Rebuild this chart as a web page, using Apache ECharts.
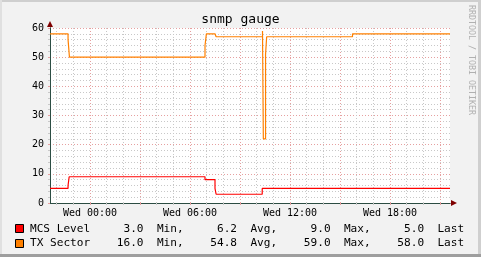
<!DOCTYPE html>
<html><head><meta charset="utf-8">
<script src="https://cdn.jsdelivr.net/npm/echarts@6/dist/echarts.min.js"></script>
<style>html,body{margin:0;padding:0;background:#f2f2f2}#c{width:481px;height:257px}</style>
</head><body><div id="c"></div>
<script>
// ---- data (times are minutes relative to Wed 00:00) ----
const titleText = 'snmp gauge';
const watermark = 'RRDTOOL / TOBI OETIKER';
const seriesNames = ['MCS Level', 'TX Sector'];
const mcsTimes  = [-144, -79, -75, 414, 450, 454, 620, 623, 627, 1296];
const mcsValues = [5, 6, 9, 8, 5, 3, 5, 5.3, 5, 5];
const txTimes   = [-144, -79, -74, 414, 419, 450, 454, 621, 624, 632, 636, 945, 1296];
const txValues  = [58, 56, 50, 54, 58, 57.5, 57, 59, 22, 51, 57, 58, 58];
const statMin  = [3.0, 16.0];
const statAvg  = [6.2, 54.8];
const statMax  = [9.0, 59.0];
const statLast = [5.0, 58.0];
const xLabelValues = [0, 360, 720, 1080];
const xLabelTexts  = ['Wed 00:00', 'Wed 06:00', 'Wed 12:00', 'Wed 18:00'];
const xMajorTicks  = [0, 180, 360, 540, 720, 900, 1080, 1260];
const xMinorTicks  = [-120, -60, 0, 60, 120, 180, 240, 300, 360, 420, 480, 540, 600, 660, 720, 780, 840, 900, 960, 1020, 1080, 1140, 1200, 1260];
const X_MIN = -144, X_MAX = 1296;
const Y_MIN = 0, Y_MAX = 60;

// ---- styles ----
const colors = ['#ff0000', '#ff8000'];
const mono = '"DejaVu Sans Mono"';
const minorGrid = '#c8c8c8';
const majorGrid = '#e6a0a0';
const axisColor = '#2c4d43';
const arrowColor = '#7f0000';

function pairs(t, v) { return t.map((x, i) => [x, v[i]]); }
function fmt(v, w) { return v.toFixed(1).padStart(w); }
const legendRows = seriesNames.map((n, i) =>
  n.padEnd(9) + fmt(statMin[i], 8) + '  Min,' + fmt(statAvg[i], 8) + '  Avg,' +
  fmt(statMax[i], 8) + '  Max,' + fmt(statLast[i], 8) + '  Last');

function xa(extra) {
  return Object.assign({
    type: 'value', min: X_MIN, max: X_MAX, gridIndex: 0, position: 'bottom',
    axisLine: { show: false, onZero: false }, axisTick: { show: false },
    axisLabel: { show: false }, splitLine: { show: false }
  }, extra);
}
function ya(extra) {
  return Object.assign({
    type: 'value', min: Y_MIN, max: Y_MAX, interval: 10, gridIndex: 0, position: 'left',
    axisLine: { show: false, onZero: false }, axisTick: { show: false },
    axisLabel: { show: false }, splitLine: { show: false }
  }, extra);
}

const chart = echarts.init(document.getElementById('c'), null, { renderer: 'canvas' });
const option = {
  animation: false,
  backgroundColor: '#f2f2f2',
  grid: { left: 50, top: 28, width: 400, height: 175, show: true, backgroundColor: '#ffffff', borderWidth: 0 },
  xAxis: [
    xa({ axisTick: { show: true, length: 2, customValues: xMinorTicks, lineStyle: { color: minorGrid } },
         splitLine: { show: true, lineStyle: { color: minorGrid, type: [1, 2], width: 1 } } }),
    xa({ axisTick: { show: true, length: 2, customValues: xMajorTicks, lineStyle: { color: majorGrid } },
         splitLine: { show: true, lineStyle: { color: majorGrid, type: [1, 2], width: 1 } },
         axisLabel: { show: true, customValues: xLabelValues, margin: 5, color: '#000',
           fontFamily: mono, fontSize: 10,
           formatter: v => xLabelTexts[xLabelValues.indexOf(v)] || '' } }),
    xa({ axisLine: { show: true, onZero: false, symbol: ['none', 'triangle'], symbolSize: [6, 6], symbolOffset: [0, 4],
         lineStyle: { color: arrowColor, width: 1 } } }),
    xa({ axisLine: { show: true, onZero: false, lineStyle: { color: axisColor, width: 1 } } })
  ],
  yAxis: [
    ya({ axisLine: { show: true, onZero: false, symbol: ['none', 'triangle'], symbolSize: [6, 6], symbolOffset: [0, 4],
         lineStyle: { color: arrowColor, width: 1 } } }),
    ya({ axisLine: { show: true, onZero: false, lineStyle: { color: axisColor, width: 1 } },
         axisTick: { show: true, length: 2, lineStyle: { color: majorGrid } },
         minorTick: { show: true, splitNumber: 5, length: 2, lineStyle: { color: minorGrid } },
         splitLine: { show: true, lineStyle: { color: majorGrid, type: [1, 2], width: 1 } },
         minorSplitLine: { show: true, lineStyle: { color: minorGrid, type: [1, 2], width: 1 } },
         axisLabel: { show: true, margin: 6, color: '#000', fontFamily: mono, fontSize: 10 } })
  ],
  series: [
    { name: seriesNames[0], type: 'line', step: 'end', xAxisIndex: 0, yAxisIndex: 1, showSymbol: false,
      data: pairs(mcsTimes, mcsValues), lineStyle: { color: colors[0], width: 1.2 }, itemStyle: { color: colors[0] }, z: 3 },
    { name: seriesNames[1], type: 'line', step: 'end', xAxisIndex: 0, yAxisIndex: 1, showSymbol: false,
      data: pairs(txTimes, txValues), lineStyle: { color: colors[1], width: 1.2 }, itemStyle: { color: colors[1] }, z: 4 }
  ],
  graphic: [
    { type: 'rect', shape: { x: 0, y: 0, width: 481, height: 2 }, style: { fill: '#cfcfcf' }, silent: true },
    { type: 'rect', shape: { x: 0, y: 0, width: 2, height: 257 }, style: { fill: '#e0e0e0' }, silent: true },
    { type: 'rect', shape: { x: 478, y: 0, width: 3, height: 257 }, style: { fill: '#cfcfcf' }, silent: true },
    { type: 'rect', shape: { x: 0, y: 254, width: 481, height: 3 }, style: { fill: '#9e9e9e' }, silent: true },
    { type: 'text', x: 240.5, y: 20, silent: true,
      style: { text: titleText, font: '13px ' + mono, fill: '#000', align: 'center', verticalAlign: 'middle', textAlign: 'center', textVerticalAlign: 'middle' } },
    { type: 'text', x: 471, y: 5, rotation: -Math.PI / 2, silent: true,
      style: { text: watermark, font: '8.3px ' + mono, fill: '#b0b0b0', align: 'left', verticalAlign: 'middle', textAlign: 'left', textVerticalAlign: 'middle' } },
    { type: 'rect', shape: { x: 15.5, y: 224.5, width: 8, height: 8 }, style: { fill: colors[0], stroke: '#000', lineWidth: 1 }, silent: true },
    { type: 'rect', shape: { x: 15.5, y: 239.5, width: 8, height: 8 }, style: { fill: colors[1], stroke: '#000', lineWidth: 1 }, silent: true },
    { type: 'text', x: 30, y: 229, silent: true,
      style: { text: legendRows[0], font: '11.1px ' + mono, fill: '#000', align: 'left', verticalAlign: 'middle', textAlign: 'left', textVerticalAlign: 'middle' } },
    { type: 'text', x: 30, y: 243.5, silent: true,
      style: { text: legendRows[1], font: '11.1px ' + mono, fill: '#000', align: 'left', verticalAlign: 'middle', textAlign: 'left', textVerticalAlign: 'middle' } }
  ]
};
chart.setOption(option);
</script>
</body></html>
